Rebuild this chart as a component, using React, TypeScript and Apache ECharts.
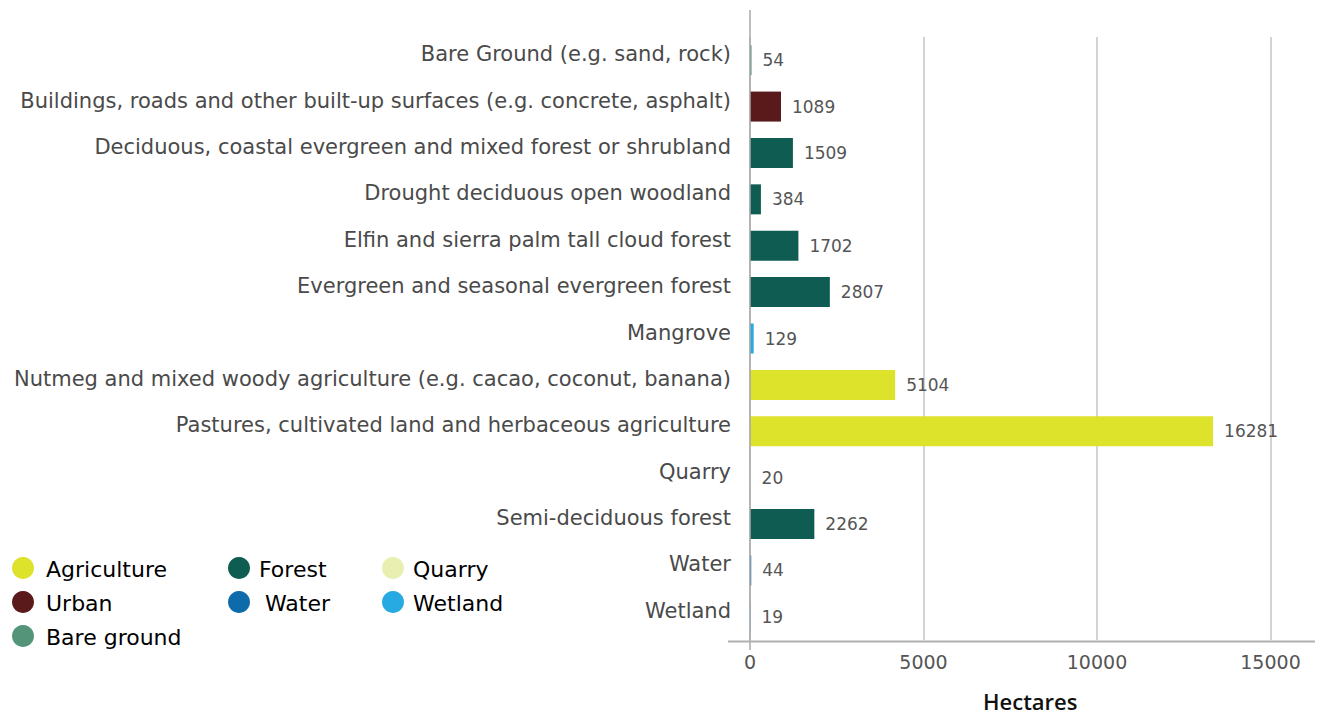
import React, { useEffect, useRef } from "react";
import * as echarts from "echarts";

const categories = [
  "Bare Ground (e.g. sand, rock)",
  "Buildings, roads and other built-up surfaces (e.g. concrete, asphalt)",
  "Deciduous, coastal evergreen and mixed forest or shrubland",
  "Drought deciduous open woodland",
  "Elfin and sierra palm tall cloud forest",
  "Evergreen and seasonal evergreen forest",
  "Mangrove",
  "Nutmeg and mixed woody agriculture (e.g. cacao, coconut, banana)",
  "Pastures, cultivated land and herbaceous agriculture",
  "Quarry",
  "Semi-deciduous forest",
  "Water",
  "Wetland",
];
const values = [54, 1089, 1509, 384, 1702, 2807, 129, 5104, 16281, 20, 2262, 44, 19];
const groups = [
  "Bare ground",
  "Urban",
  "Forest",
  "Forest",
  "Forest",
  "Forest",
  "Wetland",
  "Agriculture",
  "Agriculture",
  "Quarry",
  "Forest",
  "Water",
  "Wetland",
];
const legendNames = ["Agriculture", "Forest", "Quarry", "Urban", "Water", "Wetland", "Bare ground"];
const legendColors = ["#dde22a", "#0f5c52", "#e8efb0", "#5a1a1c", "#0e6bab", "#27a9e1", "#54957a"];
const tickLabels = ["0", "5000", "10000", "15000"];
const TICK_STEP = 6100;

const FONT = "'DejaVu Sans', 'Open Sans', sans-serif";
const FONT2 = "'Open Sans', Lato, sans-serif";

export default function App() {
  const ref = useRef<HTMLDivElement>(null);
  useEffect(() => {
    document.body.style.margin = "0";
    if (!ref.current) return;
    const chart = echarts.init(ref.current, undefined, { renderer: "svg" });
    const colorOf = (g: string) => legendColors[legendNames.indexOf(g)];

    const legendCols = [23, 239, 393];
    const legendRows = [568, 602, 636];
    const legendTextX = [46, 259, 413];
    const legendEls: any[] = [];
    legendNames.forEach((name, i) => {
      const col = i % 3;
      const row = Math.floor(i / 3);
      legendEls.push({
        type: "circle",
        shape: { cx: legendCols[col], cy: legendRows[row], r: 11 },
        style: { fill: legendColors[i] },
      });
      legendEls.push({
        type: "text",
        x: legendTextX[col] + (name === "Water" ? 6 : 0),
        y: legendRows[row] + 1,
        style: {
          text: name,
          fill: "#000",
          font: `normal 22px ${FONT}`,
          verticalAlign: "middle",
        },
      });
    });

    chart.setOption({
      animation: false,
      grid: { left: 750, right: 46.5, top: 37, bottom: 72, containLabel: false },
      xAxis: {
        type: "value",
        min: 0,
        max: TICK_STEP * 3,
        interval: TICK_STEP,
        axisLine: { show: false },
        axisTick: { show: false },
        splitLine: { show: true, lineStyle: { color: "#c4c4c4", width: 1.5 } },
        axisLabel: {
          margin: 12,
          color: "#555",
          fontSize: 19,
          fontFamily: FONT,
          formatter: (v: number) => {
            const idx = Math.round(v / TICK_STEP);
            return tickLabels[idx] ?? "";
          },
        },
        name: "Hectares",
        nameLocation: "middle",
        nameGap: 50,
        nameTextStyle: {
          color: "#111",
          fontSize: 22,
          fontWeight: 600,
          fontFamily: FONT2,
          padding: [0, 0, 0, 40],
        },
      },
      yAxis: {
        type: "category",
        inverse: true,
        data: categories,
        axisLine: { show: false },
        axisTick: { show: false },
        splitLine: { show: false },
        axisLabel: {
          margin: 19,
          color: "#4a4a4a",
          fontSize: 21,
          fontFamily: FONT,
          verticalAlign: "bottom",
          lineHeight: 12,
        },
      },
      series: [
        {
          type: "bar",
          barWidth: 30,
          data: values.map((v, i) => ({
            value: v,
            itemStyle: { color: colorOf(groups[i]) },
          })),
          label: {
            show: true,
            position: "right",
            distance: 11,
            color: "#555",
            fontSize: 17,
            fontFamily: FONT,
          },
        },
      ],
      graphic: [
        {
          type: "line",
          shape: { x1: 750, y1: 10, x2: 750, y2: 650 },
          style: { stroke: "#a8a8a8", lineWidth: 1.5 },
          z: 10,
        },
        {
          type: "line",
          shape: { x1: 728, y1: 641.5, x2: 1315, y2: 641.5 },
          style: { stroke: "#b0b0b0", lineWidth: 2 },
          z: 10,
        },
        ...legendEls,
      ],
    });
    return () => chart.dispose();
  }, []);
  return <div ref={ref} style={{ width: 1317, height: 717 }} />;
}
